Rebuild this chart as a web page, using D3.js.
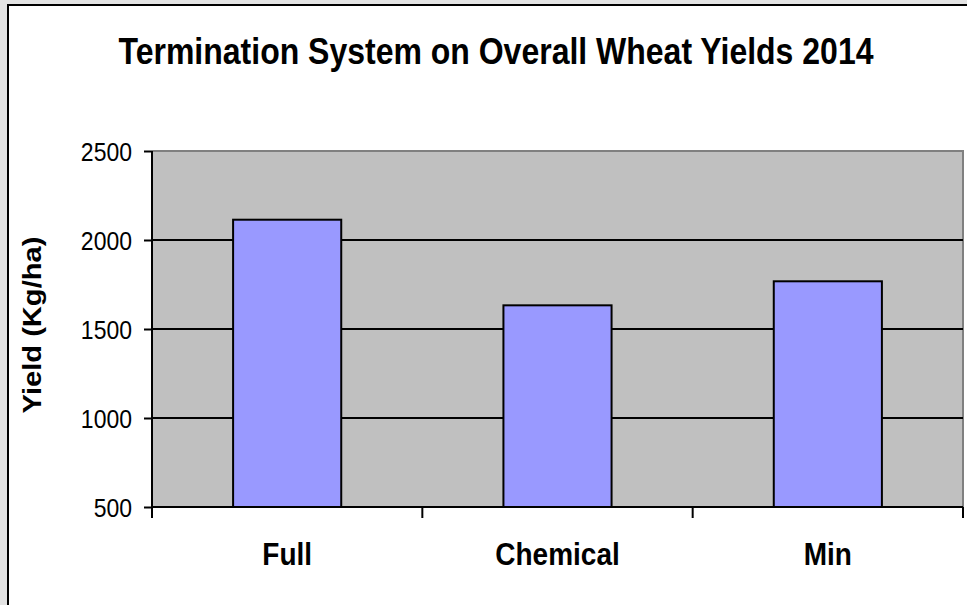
<!DOCTYPE html>
<html>
<head>
<meta charset="utf-8">
<script src="https://cdn.jsdelivr.net/npm/d3@7"></script>
<style>
  body { margin: 0; background: #e3e3e3; }
  svg { display: block; font-family: "Liberation Sans", Arial, sans-serif; }
</style>
</head>
<body>
<svg id="viz" width="967" height="605"></svg>
<script>
// chart data
var categories = ["Full", "Chemical", "Min"];
var yields = [2114, 1633, 1768];
var yTicks = [500, 1000, 1500, 2000, 2500];
var titleText = "Termination System on Overall Wheat Yields 2014";
var yTitle = "Yield (Kg/ha)";

var svg = d3.select("#viz"),
    plot = { left: 152, right: 963, top: 151, bottom: 507 };

// white chart frame, only left/top edges are visible in the window
svg.append("rect")
    .attr("x", 8).attr("y", 5)
    .attr("width", 1100).attr("height", 800)
    .attr("fill", "#fff")
    .attr("stroke", "#000")
    .attr("stroke-width", 2);

var x = d3.scaleBand()
    .domain(categories)
    .range([plot.left, plot.right])
    .paddingInner(0.6)
    .paddingOuter(0.3);

var y = d3.scaleLinear()
    .domain([d3.min(yTicks), d3.max(yTicks)])
    .range([plot.bottom, plot.top]);

// plot background
svg.append("rect")
    .attr("x", plot.left).attr("y", plot.top)
    .attr("width", plot.right - plot.left)
    .attr("height", plot.bottom - plot.top)
    .attr("fill", "#c0c0c0");

// top and right border in gray
svg.append("path")
    .attr("d", "M" + plot.left + "," + plot.top + "H" + plot.right + "V" + plot.bottom)
    .attr("fill", "none")
    .attr("stroke", "#808080")
    .attr("stroke-width", 2);

// gridlines
svg.append("g").selectAll("line")
    .data(yTicks.filter(function(d) { return d > y.domain()[0] && d < y.domain()[1]; }))
    .enter().append("line")
    .attr("x1", plot.left).attr("x2", plot.right)
    .attr("y1", d => y(d)).attr("y2", d => y(d))
    .attr("stroke", "#000")
    .attr("stroke-width", 2);

// bars
svg.append("g").selectAll("rect")
    .data(yields)
    .enter().append("rect")
    .attr("x", (d, i) => x(categories[i]))
    .attr("y", d => y(d))
    .attr("width", x.bandwidth())
    .attr("height", d => y(y.domain()[0]) - y(d))
    .attr("fill", "#9999ff")
    .attr("stroke", "#000")
    .attr("stroke-width", 2);

// y axis
var yAxis = svg.append("g")
    .attr("transform", "translate(" + plot.left + ",0)")
    .call(d3.axisLeft(y).tickValues(yTicks).tickSize(8).tickPadding(0).tickFormat(d3.format("d")));
yAxis.select(".domain").remove();
yAxis.selectAll(".tick line").attr("stroke", "#000").attr("stroke-width", 2);
yAxis.selectAll(".tick text")
    .attr("x", null).attr("dy", null)
    .attr("font-size", 23)
    .attr("fill", "#000")
    .attr("transform", "translate(-20,9.5) scale(1,1.15)");
yAxis.append("line")
    .attr("x1", 0).attr("x2", 0)
    .attr("y1", plot.top).attr("y2", plot.bottom + 11)
    .attr("stroke", "#000").attr("stroke-width", 2);

// x axis: baseline, boundary ticks and labels
var xAxis = svg.append("g");
xAxis.append("line")
    .attr("x1", plot.left).attr("x2", plot.right)
    .attr("y1", plot.bottom).attr("y2", plot.bottom)
    .attr("stroke", "#000").attr("stroke-width", 2);
xAxis.selectAll(".xtick")
    .data(d3.range(1, categories.length + 1))
    .enter().append("line")
    .attr("class", "xtick")
    .attr("x1", i => plot.left + i * x.step())
    .attr("x2", i => plot.left + i * x.step())
    .attr("y1", plot.bottom).attr("y2", plot.bottom + 11)
    .attr("stroke", "#000").attr("stroke-width", 2);
xAxis.selectAll(".xlabel")
    .data(categories)
    .enter().append("text")
    .attr("class", "xlabel")
    .attr("text-anchor", "middle")
    .attr("font-size", 28)
    .attr("font-weight", "bold")
    .attr("transform", d => "translate(" + (x(d) + x.bandwidth() / 2) + ",565) scale(1,1.12)")
    .text(d => d);

// title
svg.append("text")
    .attr("text-anchor", "middle")
    .attr("font-size", 32)
    .attr("font-weight", "bold")
    .attr("transform", "translate(496,64) scale(1,1.17)")
    .text(titleText);

// y axis title
svg.append("text")
    .attr("text-anchor", "middle")
    .attr("font-size", 26)
    .attr("font-weight", "bold")
    .attr("transform", "translate(41," + ((plot.top + plot.bottom) / 2 - 4) + ") rotate(-90) scale(1.12,1)")
    .text(yTitle);
</script>
</body>
</html>
